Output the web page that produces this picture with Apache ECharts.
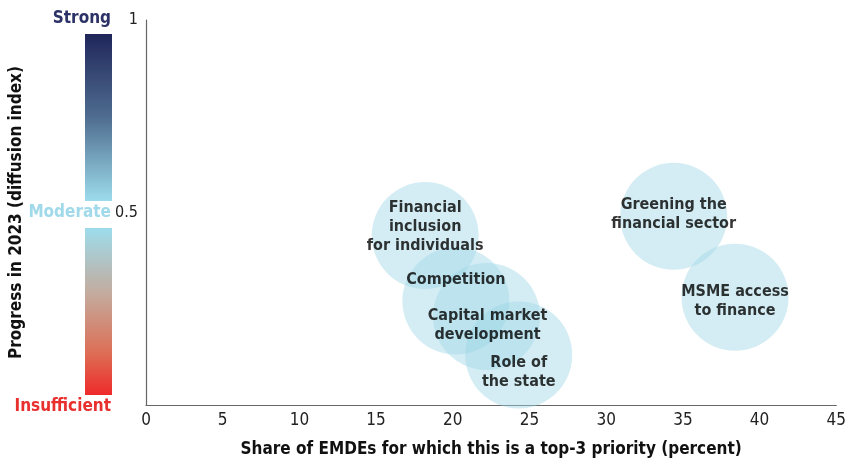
<!DOCTYPE html>
<html>
<head>
<meta charset="utf-8">
<script src="https://cdn.jsdelivr.net/npm/echarts@6/dist/echarts.min.js"></script>
<style>
  html, body { margin: 0; padding: 0; background: #fff; }
  #chart { width: 849px; height: 463px; }
</style>
</head>
<body>
<div id="chart"></div>
<script>
const FONT = '"Liberation Sans Narrow", "DejaVu Sans Condensed", sans-serif'

// priorities, share of EMDEs (x) and progress diffusion index (y)
const categories = [
  'Financial\ninclusion\nfor individuals',
  'Competition',
  'Capital market\ndevelopment',
  'Role of\nthe state',
  'Greening the\nfinancial sector',
  'MSME access\nto finance',
]
const shareValues = [18.2, 20.2, 22.2, 24.3, 34.4, 38.4]
const progressValues = [0.44, 0.27, 0.23, 0.13, 0.49, 0.28]
const xTicks = [0, 5, 10, 15, 20, 25, 30, 35, 40, 45]
const yTicks = [0.5, 1]

// label nudges so the text sits like in the original
const labelShift = [[0, -9], [0, -21], [1, 9], [0, 17], [0, -2], [0, 4]]

const chart = echarts.init(document.getElementById('chart'))

const option = {
  animation: false,
  backgroundColor: '#fff',
  grid: { left: 145, right: 12, top: 20, bottom: 53 },
  xAxis: {
    type: 'value',
    min: xTicks[0],
    max: xTicks[xTicks.length - 1],
    interval: 5,
    splitLine: { show: false },
    axisTick: { show: false },
    axisLine: { lineStyle: { color: '#666', width: 1.2 } },
    axisLabel: { color: '#222', fontFamily: FONT, fontSize: 17, margin: 7 },
    name: 'Share of EMDEs for which this is a top-3 priority (percent)',
    nameLocation: 'middle',
    nameGap: 36,
    nameTextStyle: { color: '#111', fontFamily: FONT, fontSize: 17, fontWeight: 'bold' },
  },
  yAxis: {
    type: 'value',
    min: 0,
    max: 1,
    interval: 0.5,
    splitLine: { show: false },
    axisTick: { show: false },
    axisLine: { show: true, lineStyle: { color: '#666', width: 1.2 } },
    axisLabel: {
      color: '#222',
      fontFamily: FONT,
      fontSize: 16,
      margin: 8,
      formatter: (v) => (yTicks.includes(v) ? String(v) : ''),
    },
    name: 'Progress in 2023 (diffusion index)',
    nameLocation: 'middle',
    nameGap: 121,
    nameTextStyle: { color: '#111', fontFamily: FONT, fontSize: 17, fontWeight: 'bold' },
  },
  graphic: [
    {
      type: 'rect',
      shape: { x: 85, y: 34, width: 27, height: 167 },
      style: {
        fill: new echarts.graphic.LinearGradient(0, 0, 0, 1, [
          { offset: 0, color: '#20265a' },
          { offset: 0.5, color: '#4f6d90' },
          { offset: 1, color: '#9ddcec' },
        ]),
      },
    },
    {
      type: 'rect',
      shape: { x: 85, y: 228, width: 27, height: 167 },
      style: {
        fill: new echarts.graphic.LinearGradient(0, 0, 0, 1, [
          { offset: 0, color: '#9ddcec' },
          { offset: 0.4, color: '#c4aa9c' },
          { offset: 0.75, color: '#dd6e55' },
          { offset: 1, color: '#ee2a2a' },
        ]),
      },
    },
    {
      type: 'text', right: 849 - 111, top: 10,
      style: { text: 'Strong', fill: '#2c3266', font: 'bold 17px ' + FONT, textAlign: 'right' },
    },
    {
      type: 'text', right: 849 - 111, top: 204,
      style: { text: 'Moderate', fill: '#9fd9ea', font: 'bold 17px ' + FONT, textAlign: 'right' },
    },
    {
      type: 'text', right: 849 - 111, top: 398,
      style: { text: 'Insufficient', fill: '#e8302f', font: 'bold 17px ' + FONT, textAlign: 'right' },
    },
  ],
  series: [
    {
      type: 'scatter',
      z: 2,
      symbolSize: 107,
      itemStyle: { color: 'rgba(157, 213, 230, 0.55)' },
      label: { show: false },
      data: shareValues.map((x, i) => [x, progressValues[i]]),
    },
    {
      type: 'scatter',
      z: 3,
      symbolSize: 1,
      itemStyle: { color: 'rgba(0,0,0,0)' },
      label: {
        show: true,
        position: 'inside',
        color: '#000',
        textBorderWidth: 0,
        fontFamily: FONT,
        fontSize: 16,
        fontWeight: 'bold',
        lineHeight: 19,
        formatter: (p) => categories[p.dataIndex],
      },
      data: shareValues.map((x, i) => ({
        value: [x, progressValues[i]],
        label: { offset: labelShift[i] },
      })),
    },
  ],
}

chart.setOption(option)
</script>
</body>
</html>
